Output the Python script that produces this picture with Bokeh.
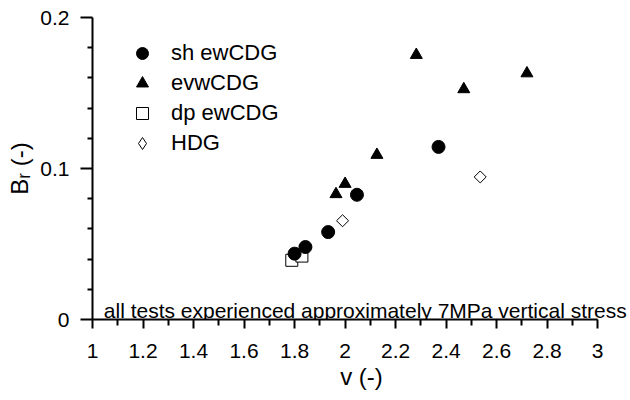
import math
from bokeh.plotting import figure
from bokeh.models import Range1d, Label, Legend, LegendItem, FixedTicker, Title
from bokeh.embed import file_html
from bokeh.resources import INLINE

# ---- data ----
sh_v = [1.800, 1.843, 1.933, 2.047, 2.370]
sh_b = [0.0436, 0.0480, 0.0579, 0.0826, 0.1143]

evw_v = [1.964, 2.000, 2.126, 2.282, 2.470, 2.720]
evw_b = [0.0830, 0.0898, 0.1090, 0.1752, 0.1525, 0.1630]

dp_v = [1.789, 1.829]
dp_b = [0.0392, 0.0420]

hdg_v = [1.990, 2.535]
hdg_b = [0.0654, 0.0944]

x_ticks = [1, 1.2, 1.4, 1.6, 1.8, 2, 2.2, 2.4, 2.6, 2.8, 3]
x_tick_labels = ["1", "1.2", "1.4", "1.6", "1.8", "2", "2.2", "2.4", "2.6", "2.8", "3"]
x_minor = [1.1, 1.3, 1.5, 1.7, 1.9, 2.1, 2.3, 2.5, 2.7, 2.9]
y_ticks = [0, 0.1, 0.2]
y_tick_labels = ["0", "0.1", "0.2"]
y_minor = [0.02, 0.04, 0.06, 0.08, 0.12, 0.14, 0.16, 0.18]

series_labels = ["sh ewCDG", "evwCDG", "dp ewCDG", "HDG"]
x_title = "v (-)"
y_title = "B\u1d63 (-)"
annotation = "all tests experienced approximately 7MPa vertical stress"

FONT = "Liberation Sans"

# frame runs past x=3 so the note can overhang; the axis itself stops at 3
p = figure(width=630, height=400, output_backend="svg", toolbar_location=None,
           x_range=Range1d(1, 3.13), y_range=Range1d(0, 0.2),
           min_border_left=92, min_border_right=0, min_border_top=17, min_border_bottom=81)
p.outline_line_color = None
p.xgrid.visible = False
p.ygrid.visible = False
p.background_fill_color = "white"

# squares first so circles sit on top
r_dp = p.scatter(dp_v, dp_b, marker="square", size=12, fill_color="white",
                 line_color="black", line_width=1)
r_hdg = p.scatter(hdg_v, hdg_b, marker="square", angle=math.pi / 4, size=8.5,
                  fill_color="white", line_color="black", line_width=1)
r_evw = p.scatter(evw_v, evw_b, marker="triangle", size=12, fill_color="black",
                  line_color="black")
r_sh = p.scatter(sh_v, sh_b, marker="circle", size=13, fill_color="black",
                 line_color="black")
# legend key for the open diamonds (same data, not drawn on the plot)
r_hdg_key = p.scatter(hdg_v, hdg_b, marker="diamond", size=12, fill_color="white",
                      line_color="black", line_width=1, visible=False)

# axes
xa = p.xaxis[0]
xa.ticker = FixedTicker(ticks=x_ticks, minor_ticks=x_minor)
xa.major_label_overrides = {t: l for t, l in zip(x_ticks, x_tick_labels)}
xa.bounds = (1, 3)
ya = p.yaxis[0]
ya.ticker = FixedTicker(ticks=y_ticks, minor_ticks=y_minor)
ya.major_label_overrides = {t: l for t, l in zip(y_ticks, y_tick_labels)}

for ax in (xa, ya):
    ax.axis_line_color = "black"
    ax.axis_line_width = 2
    ax.major_tick_line_color = "black"
    ax.major_tick_line_width = 2
    ax.minor_tick_line_color = "black"
    ax.minor_tick_line_width = 2
    ax.major_tick_in = 0
    ax.minor_tick_in = 0
    ax.major_label_text_font = FONT
    ax.major_label_text_font_size = "21px"
    ax.major_label_text_color = "black"
    ax.axis_label_text_font = FONT
    ax.axis_label_text_font_size = "24px"
    ax.axis_label_text_font_style = "normal"
    ax.axis_label_text_color = "black"

xa.major_tick_out = 9
xa.minor_tick_out = 6
xa.major_label_standoff = 15

ya.major_tick_out = 12
ya.minor_tick_out = 5
ya.major_label_standoff = 11
ya.axis_label = y_title
ya.axis_label_standoff = 4

# x title centred under the axis span (1..3), not under the wider frame
p.add_layout(Title(text=x_title, align="center", offset=-16.5, standoff=0,
                   text_font=FONT, text_font_size="24px", text_font_style="normal",
                   text_color="black"), "below")

# annotation
p.add_layout(Label(x=11.3, y=9, x_units="screen", y_units="screen", text=annotation,
                   text_font=FONT, text_font_size="21px", text_color="black",
                   text_align="left", text_baseline="alphabetic"))

legend = Legend(items=[
    LegendItem(label=series_labels[0], renderers=[r_sh]),
    LegendItem(label=series_labels[1], renderers=[r_evw]),
    LegendItem(label=series_labels[2], renderers=[r_dp]),
    LegendItem(label=series_labels[3], renderers=[r_hdg_key]),
], location=(35, 161), orientation="vertical")
legend.padding = 0
legend.margin = 0
legend.spacing = 0
legend.glyph_width = 30
legend.glyph_height = 30
legend.label_height = 30
legend.label_standoff = 14
legend.border_line_color = None
legend.background_fill_alpha = 0
legend.label_text_font = FONT
legend.label_text_font_size = "22px"
legend.label_text_color = "black"
p.add_layout(legend)

open("out.html", "w").write(file_html(p, INLINE))
